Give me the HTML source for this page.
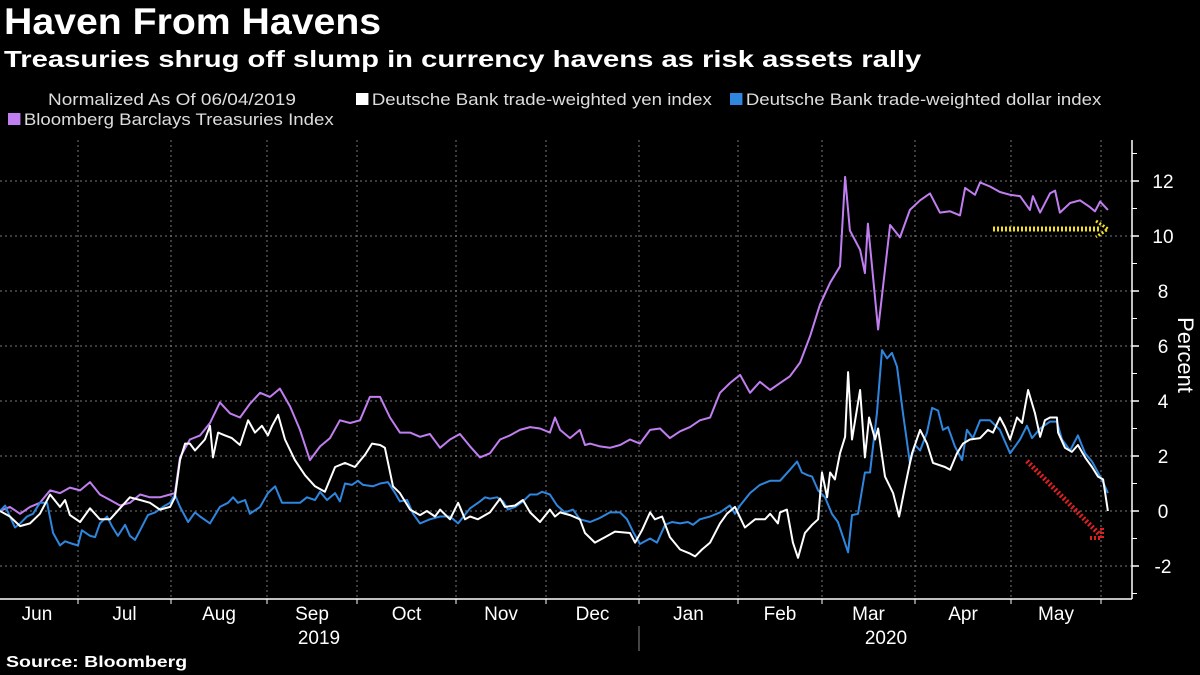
<!DOCTYPE html>
<html><head><meta charset="utf-8"><style>
html,body{margin:0;padding:0;background:#000;}
body{width:1200px;height:675px;overflow:hidden;position:relative;font-family:"Liberation Sans",sans-serif;color:#fff;}
.t{position:absolute;white-space:nowrap;transform-origin:0 0;}
</style></head><body>
<div class="t" style="left:4px;top:1px;font-size:37px;font-weight:bold;transform:scaleX(1.06);">Haven From Havens</div>
<div class="t" style="left:4px;top:46px;font-size:23px;font-weight:bold;transform:scaleX(1.27);">Treasuries shrug off slump in currency havens as risk assets rally</div>
<div class="t" style="left:48px;top:91px;font-size:16.5px;color:#ddd;transform:scaleX(1.15);">Normalized As Of 06/04/2019</div>
<div class="t" style="left:356px;top:91px;font-size:16.5px;color:#ddd;transform:scaleX(1.13);"><span style="display:inline-block;width:11px;height:12px;background:#fff;margin-right:3px;"></span>Deutsche Bank trade-weighted yen index</div>
<div class="t" style="left:730px;top:91px;font-size:16.5px;color:#ddd;transform:scaleX(1.13);"><span style="display:inline-block;width:11px;height:12px;background:#2f86de;margin-right:3px;"></span>Deutsche Bank trade-weighted dollar index</div>
<div class="t" style="left:8px;top:111px;font-size:16.5px;color:#ddd;transform:scaleX(1.13);"><span style="display:inline-block;width:11px;height:12px;background:#c07ef0;margin-right:3px;"></span>Bloomberg Barclays Treasuries Index</div>
<div class="t" style="left:6px;top:654px;font-size:16px;font-weight:bold;transform:scaleX(1.22);">Source: Bloomberg</div>
<svg id="chart" width="1200" height="675" style="position:absolute;left:0;top:0;"></svg>
<script>
// time index (1 unit ≈ 1 day since 06/04/2019)
const trT=[0,3.3,6.7,10,13.3,16.7,20,23.3,26.7,30,33.3,36.7,40,43.3,46.7,50,53.3,56.7,58.3,60,63.3,66.7,70,73.3,76.7,80,83.3,86.7,90,93.3,96.7,100,103.3,106.7,110,113.3,116.7,120,123.3,126.7,130,133.3,136.7,140,143.3,146.7,150,153.3,156.7,160,163.3,166.7,170,173.3,176.7,180,183.3,185,186.7,190,193.3,195,196.7,200,203.3,206.7,210,213.3,216.7,220,223.3,226.7,230,233.3,236.7,240,243.3,246.7,250,253.3,256.7,260,263.3,266.7,270,273.3,276.7,280,281.7,283.3,286.7,288.3,289.3,292.7,296.7,300,303.3,306.7,310,313.3,316.7,320,321.7,325,326.7,330,333.3,336.7,340,343.3,344.3,346.7,350,351.7,353.3,356.7,360,363.3,365,366.7,369.3];
const trV=[0,.15,-.1,.15,.3,.75,.65,.85,.75,1.05,.6,.4,.2,.3,.6,.5,.5,.6,.65,1.95,2.6,2.75,3.2,3.95,3.55,3.4,3.9,4.3,4.15,4.45,3.8,2.95,1.85,2.35,2.65,3.3,3.2,3.3,4.15,4.15,3.4,2.85,2.85,2.7,2.8,2.3,2.6,2.8,2.35,1.95,2.1,2.6,2.75,2.95,3.05,3.0,2.85,3.4,2.95,2.65,2.95,2.4,2.45,2.35,2.3,2.4,2.6,2.45,2.95,3.0,2.65,2.9,3.05,3.3,3.4,4.3,4.65,4.95,4.3,4.7,4.4,4.65,4.9,5.4,6.35,7.5,8.3,8.9,12.15,10.2,9.5,8.65,10.45,6.6,10.4,9.95,10.95,11.3,11.55,10.85,10.9,10.75,11.75,11.5,11.95,11.8,11.6,11.5,11.45,10.95,11.45,10.85,11.55,11.65,10.85,11.2,11.3,11.05,10.9,11.25,10.95];
const yenT=[
0,3.3,6.7,10,13.3,16.7,20,21.7,23.3,26.7,
30,33.3,36.7,40,43.3,46.7,50,53.3,56.7,58.3,
60,61.7,63.3,65,68.3,70,71,72.7,75,77.3,
80,82.7,85,87.3,89.3,90.7,92.7,95,98.3,101.7,
105,108.3,111.7,115,118.3,121.7,124,126.7,128.3,131,
133.3,136.7,140,142.3,145,146.7,150,152.7,153.3,155,
156.7,159.3,163.3,166.7,168.3,171.7,174.3,176.7,180,183.3,
185,186.7,190,193.3,195,198.3,201.7,205,210,211.7,
214,216.7,218.3,220.7,223.3,226.7,230,231.7,234,236.7,
240,242.3,245,248.3,251.7,255,256.7,259.3,260,262.3,
264.3,266,268.3,270.7,272.7,274,275.7,276.7,278.3,280,
281.7,282.7,284,286.7,288.3,289.7,291.7,292.7,295,297.7,
299.7,301.7,304,306.7,309,311,315,316.7,319,321,
323.3,326.7,329.3,331,333.3,335,336.7,339,340.7,342.7,
345,346.7,348.3,350,352.3,352.7,355,357.3,359.3,361.7,
364,366,367.7,369.3];
const yenV=[
0,-.2,-.55,-.45,-.1,.6,.15,.4,-.15,-.4,
.1,-.3,-.3,.1,.5,.4,.3,.05,.15,.5,
1.85,2.45,2.45,2.2,2.6,3.1,1.95,2.85,2.75,2.65,
2.4,3.3,2.85,3.1,2.75,3.1,3.5,2.6,1.85,1.3,
.9,.7,1.6,1.75,1.6,2.05,2.45,2.4,2.3,.9,
.65,.05,-.15,0,-.2,.05,-.3,.3,.15,-.3,
-.2,-.3,-.05,.45,.15,.2,.4,-.05,-.4,.05,
-.2,-.05,-.15,-.3,-.8,-1.15,-.95,-.75,-.8,-1.15,
-.7,-.05,-.3,-.2,-.95,-1.4,-1.55,-1.65,-1.4,-1.15,
-.45,-.1,.15,-.6,-.3,-.3,-.1,-.45,-.05,.05,
-1.15,-1.7,-.8,-.5,-.3,1.4,.5,1.4,1.15,2.1,
2.7,5.05,2.6,4.4,1.95,3.4,2.6,3.0,1.25,.65,
-.2,.9,2.1,2.95,2.45,1.75,1.6,1.5,2.1,2.45,
2.6,2.65,2.95,2.85,3.4,3.05,2.6,3.4,3.2,4.4,
3.55,2.7,3.3,3.4,3.4,2.85,2.3,2.15,2.4,1.95,
1.6,1.25,1.15,0];
const usdT=[
0,1.7,3.3,5,6.7,9,11,13.3,15.7,17.7,
20,21.7,24.3,26,27.3,30,31.7,33.3,35.7,37.3,
39.3,41.7,43.3,45,46.7,49.3,51.7,54.3,56.7,58.3,
60,62.7,65,66.7,70,73.3,76,77.7,79.3,81.7,
83.3,86.7,89.3,91.7,94,96.7,100,102.3,105,106.7,
109,111.7,113.3,115,117.3,119.3,121,124.3,126.7,129.3,
131.7,133.3,135.7,137.7,140,143.3,146.7,150,152.7,156.7,
160,161.7,163.3,165.7,167.7,169.3,171.7,174.3,176.7,179,
180.7,183.3,185.7,188.3,191,193.3,196.7,200,203.3,206.7,
209,211,213.3,216.7,219,221.7,224,226.7,229.3,231,
233.3,236.7,240,243.3,245,246.7,250,253.3,256.7,260,
263.3,265.7,267.3,269.3,270.7,272.7,275,277.3,279.3,281,
282.7,284,286,288.3,290,292.3,294,295.7,297.3,299,
301,303.3,305,306.7,309,310.7,312.7,314.3,316,318.3,
320.7,322.3,324.3,326.7,330,333.3,336.7,340,342.3,344,
346.7,350,352.3,354,356.7,359.3,361.7,364,366,367.7,
369.3];
const usdV=[
0,.2,-.2,-.6,-.45,-.2,-.1,.3,.3,-.8,
-1.25,-1.1,-1.2,-1.25,-.7,-.9,-.95,-.45,-.2,-.55,
-.9,-.5,-.9,-1.05,-.7,-.15,-.05,.15,.3,.6,
.15,-.4,-.05,-.2,-.45,.15,.3,.5,.3,.4,
-.1,.15,.65,.9,.3,.3,.3,.5,.4,.7,
.4,.65,.35,1.0,.95,1.1,.95,.9,1.0,1.05,
.65,.35,.4,-.1,-.45,-.3,-.2,-.2,-.45,.1,
.35,.5,.45,.5,.35,.05,.15,.35,.6,.6,
.7,.6,.2,-.05,.05,-.3,-.4,-.25,-.05,-.05,
-.3,-.75,-1.2,-1.0,-1.15,-.5,-.4,-.45,-.4,-.5,
-.3,-.2,-.05,.2,-.1,.2,.65,.95,1.1,1.1,
1.5,1.8,1.4,1.3,1.25,.75,.5,-.1,-.4,-.95,
-1.5,-.15,-.1,1.4,1.4,3.55,5.85,5.55,5.75,5.25,
3.55,1.75,2.4,2.2,2.85,3.75,3.65,2.95,3.05,2.35,
1.85,2.95,2.65,3.3,3.3,2.95,2.1,2.6,3.1,2.65,
3.0,3.25,3.25,2.6,2.2,2.75,2.1,1.8,1.4,1.05,
.65];
const yTicks=[-2,0,2,4,6,8,10,12];
const months=["Jun","Jul","Aug","Sep","Oct","Nov","Dec","Jan","Feb","Mar","Apr","May"];
const monthStarts=[0,26,57,89,119,152,182,213,246,274,305,337,367]; // days
const years=["2019","2020"];

const NS="http://www.w3.org/2000/svg";
const svg=document.getElementById('chart');
const X0=0,X1=1110,TMAX=370;
const xs=t=>X0+(t/TMAX)*(X1-X0);
const ys=v=>511-v*27.5;
const AX=1132,TOP=140,BOT=599;
function mk(tag,attrs,parent){const e=document.createElementNS(NS,tag);for(const k in attrs)e.setAttribute(k,attrs[k]);(parent||svg).appendChild(e);return e;}

for(let v=-3;v<=13;v++){
  const y=ys(v);
  if(v%2===0){
    const g=mk('line',{x1:0,x2:AX,y1:y,y2:y,stroke:'#777','stroke-width':1,'stroke-dasharray':'2,3'});
    
    
    const tk=mk('line',{x1:AX,x2:AX+7,y1:y,y2:y,stroke:'#fff','stroke-width':1.5});
    
    
  } else {
    const tk=mk('line',{x1:AX,x2:AX+5,y1:y,y2:y,stroke:'#fff','stroke-width':1});
    
    
  }
}
yTicks.forEach(v=>{
  const t=mk('text',{x:1163,y:ys(v)+7,'text-anchor':'middle',fill:'#fff','font-size':19,'font-family':'Liberation Sans, sans-serif'});
  t.textContent=String(v);
  
  
});
monthStarts.slice(1).forEach(d=>{
  const x=xs(d);
  const g=mk('line',{x1:x,x2:x,y1:TOP,y2:BOT,stroke:'#777','stroke-width':1,'stroke-dasharray':'2,3'});
  
  
  const tk=mk('line',{x1:x,x2:x,y1:BOT,y2:BOT+5,stroke:'#fff','stroke-width':1});
  
  
});
months.forEach((m,i)=>{
  const t=mk('text',{x:xs((monthStarts[i]+monthStarts[i+1])/2)+(i===0?-2:0),y:620,'text-anchor':'middle',fill:'#fff','font-size':19,'font-family':'Liberation Sans, sans-serif'});
  t.textContent=m;
  
  
});
const y1=mk('text',{x:319,y:644,'text-anchor':'middle',fill:'#fff','font-size':19,'font-family':'Liberation Sans, sans-serif'});
y1.textContent=years[0];


const y2=mk('text',{x:886,y:644,'text-anchor':'middle',fill:'#fff','font-size':19,'font-family':'Liberation Sans, sans-serif'});
y2.textContent=years[1];


const sep=mk('line',{x1:xs(monthStarts[7]),x2:xs(monthStarts[7]),y1:626,y2:651,stroke:'#888','stroke-width':1});


const xa=mk('line',{x1:0,x2:AX,y1:BOT,y2:BOT,stroke:'#fff','stroke-width':1.5});


const ya=mk('line',{x1:AX,x2:AX,y1:TOP,y2:BOT,stroke:'#fff','stroke-width':1.5});


const yt=mk('text',{x:0,y:0,'text-anchor':'middle',fill:'#fff','font-size':22,'font-family':'Liberation Sans, sans-serif',transform:'translate(1178,355) rotate(90)'});
yt.textContent='Percent';



function line(T,V,color,name){
  const n=Math.min(T.length,V.length);
  let d='';
  for(let i=0;i<n;i++) d+=(i?'L':'M')+xs(T[i]).toFixed(1)+','+ys(V[i]).toFixed(1);
  const p=mk('path',{d:d,fill:'none',stroke:color,'stroke-width':2,'stroke-linejoin':'round'});
  
  
}
line(trT,trV,'#c07ef0','series-treasuries');
line(usdT,usdV,'#2f86de','series-dollar');
line(yenT,yenV,'#ffffff','series-yen');

const ya1=mk('line',{x1:993,x2:1100,y1:229,y2:229,stroke:'#f0e020','stroke-width':5,'stroke-dasharray':'2,2'});


const yh=mk('path',{d:'M1096,221 L1108,229 L1096,237',fill:'none',stroke:'#f0e020','stroke-width':3,'stroke-dasharray':'2,2'});


const ra=mk('line',{x1:1027,x2:1100,y1:461,y2:535,stroke:'#e02020','stroke-width':5,'stroke-dasharray':'2,2'});


const rh=mk('path',{d:'M1090,538 L1102,538 L1102,526',fill:'none',stroke:'#e02020','stroke-width':4,'stroke-dasharray':'2,2'});


</script>
</body></html>
